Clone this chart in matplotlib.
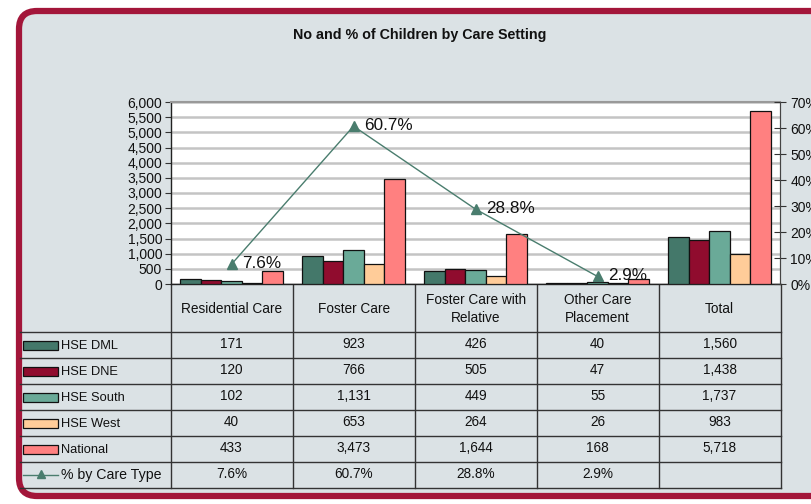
import matplotlib
matplotlib.use("Agg")
import matplotlib.pyplot as plt
from matplotlib.patches import FancyBboxPatch, Rectangle
from matplotlib.lines import Line2D
import numpy as np

plt.rcParams['font.family'] = ['Liberation Sans', 'DejaVu Sans']

categories = ["Residential Care", "Foster Care", "Foster Care with\nRelative",
              "Other Care\nPlacement", "Total"]
series_names = ["HSE DML", "HSE DNE", "HSE South", "HSE West", "National"]
hse_dml = [171, 923, 426, 40, 1560]
hse_dne = [120, 766, 505, 47, 1438]
hse_south = [102, 1131, 449, 55, 1737]
hse_west = [40, 653, 264, 26, 983]
national = [433, 3473, 1644, 168, 5718]
pct_by_type = [7.6, 60.7, 28.8, 2.9]
pct_name = "% by Care Type"
title = "No and % of Children by Care Setting"

series = [hse_dml, hse_dne, hse_south, hse_west, national]
colors = ["#44786a", "#900c2e", "#6aaa98", "#ffcc99", "#ff8080"]
line_color = "#4a7d6e"
bg = "#dbe2e5"

W, H = 811, 504
fig = plt.figure(figsize=(W / 100, H / 100), dpi=100)
fig.patch.set_facecolor("white")

# overlay axes in pixel coordinates for frame and table
ov = fig.add_axes([0, 0, 1, 1], zorder=0)
ov.set_xlim(0, W)
ov.set_ylim(H, 0)
ov.axis("off")
ov.add_patch(FancyBboxPatch((19, 11), 830, 485, boxstyle="round,pad=0,rounding_size=18",
                            facecolor=bg, edgecolor="#a3163a", linewidth=4.5, zorder=0))
ov.text(420, 35, title, ha="center", va="center", fontsize=10.3, fontweight="bold", color="#111111")

# main chart axes
L, R, T, B = 170.5, 780.5, 102, 284
ax = fig.add_axes([L / W, 1 - B / H, (R - L) / W, (B - T) / H], zorder=2)
ax.set_facecolor("white")
x = np.arange(len(categories))
bw = 0.168
for i, (vals, c) in enumerate(zip(series, colors)):
    ax.bar(x + (i - 2) * bw, vals, width=bw, color=c, edgecolor="#111111", linewidth=0.9, zorder=3)
ax.set_xlim(-0.5, len(categories) - 0.5)
ax.set_ylim(0, 6000)
ax.set_yticks(np.arange(0, 6001, 500))
ax.set_yticklabels([f"{v:,}" for v in range(0, 6001, 500)], fontsize=10, color="#111111")
ax.yaxis.grid(True, color="#c4c4c4", linewidth=1.8, zorder=0)
ax.set_axisbelow(True)
ax.set_xticks([])
ax.tick_params(axis="y", length=4, width=0.8, color="#333333", pad=2)
for s in ["left", "bottom"]:
    ax.spines[s].set_color("#222222")
    ax.spines[s].set_linewidth(1.0)
ax.spines["top"].set_color("#999999")
ax.spines["top"].set_linewidth(1.5)
ax.spines["right"].set_color("#555555")

ax2 = ax.twinx()
ax2.set_ylim(0, 70)
ax2.set_yticks(np.arange(0, 71, 10))
ax2.set_yticklabels([f"{v}%" for v in range(0, 71, 10)], fontsize=10, color="#111111")
ax2.tick_params(axis="y", direction="inout", length=8, width=0.8, color="#333333", pad=3)
for s in ax2.spines.values():
    s.set_visible(False)
ax2.spines["right"].set_visible(True)
ax2.spines["right"].set_color("#444444")
px = x[:len(pct_by_type)]
ax2.plot(px, pct_by_type, color=line_color, linewidth=1.0, marker="^", markersize=7,
         markerfacecolor=line_color, markeredgecolor=line_color, zorder=5)
for xi, p in zip(px, pct_by_type):
    ax2.annotate(f"{p}%", (xi, p), xytext=(11, 1), textcoords="offset pixels",
                 ha="left", va="center", fontsize=12.3, color="#111111", zorder=6)

# data table
col_edges = [L, 292.5, 415, 537, 658.5, R]
header_bottom = 332
row_h = 26
nrows = len(series) + 1
table_bottom = header_bottom + nrows * row_h
tl = dict(color="#333333", linewidth=1.0, zorder=1)
for xe in col_edges:
    ov.plot([xe, xe], [B, table_bottom], **tl)
ov.plot([20, R], [header_bottom, header_bottom], **tl)
for r in range(1, nrows + 1):
    yy = header_bottom + r * row_h
    ov.plot([20, R], [yy, yy], **tl)
for j, cat in enumerate(categories):
    cx = (col_edges[j] + col_edges[j + 1]) / 2
    ov.text(cx, (B + header_bottom) / 2 + 1, cat, ha="center", va="center", fontsize=9.8,
            color="#111111", linespacing=1.45)
for r, (name, vals, c) in enumerate(zip(series_names, series, colors)):
    cy = header_bottom + r * row_h + row_h / 2
    ov.add_patch(Rectangle((23, cy - 4), 35, 9, facecolor=c, edgecolor="#111111", linewidth=0.9))
    ov.text(61, cy + 1, name, ha="left", va="center", fontsize=9.3, color="#111111")
    for j, v in enumerate(vals):
        cx = (col_edges[j] + col_edges[j + 1]) / 2
        ov.text(cx, cy - 1, f"{v:,}", ha="center", va="center", fontsize=9.8, color="#111111")
cy = header_bottom + len(series) * row_h + row_h / 2
ov.add_line(Line2D([23, 58], [cy, cy], color=line_color, linewidth=1.0))
ov.plot([40.5], [cy - 1], marker="^", markersize=6, color=line_color)
ov.text(61, cy, pct_name, ha="left", va="center", fontsize=10.2, color="#111111")
for j, p in enumerate(pct_by_type):
    cx = (col_edges[j] + col_edges[j + 1]) / 2
    ov.text(cx, cy - 1, f"{p}%", ha="center", va="center", fontsize=9.8, color="#111111")

fig.savefig("out.png", dpi=100)
